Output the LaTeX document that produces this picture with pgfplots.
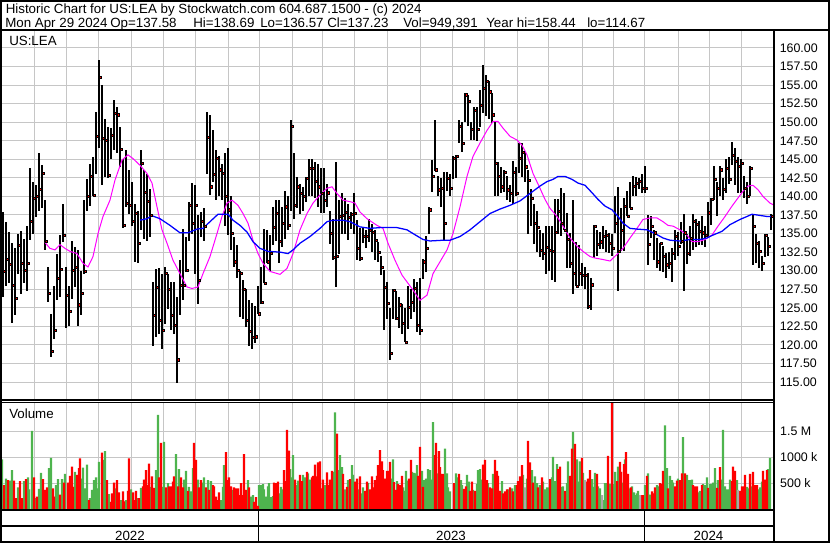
\documentclass[border=0pt]{standalone}
\usepackage{fontspec}
\setmainfont{Liberation Sans}
\usepackage{pgfplots}
\usepackage{pgfplotstable}
\pgfplotsset{compat=1.18}
\definecolor{gridgray}{RGB}{198,198,198}
\definecolor{volgreen}{RGB}{78,180,78}
\definecolor{volred}{RGB}{255,0,0}
\definecolor{volgrey}{RGB}{168,168,168}
\definecolor{magline}{RGB}{255,0,255}
\definecolor{blueline}{RGB}{0,0,255}

% x = horizontal position of the trading day on the chart (pixels from left)
\pgfplotstableread[row sep=\\]{
x h l c\\
3 137.9 126.5 129.9\\ 6 136.5 128.0 131.5\\ 9 135.2 128.3 130.9\\ 12 133.7 122.9 128.0\\ 15 133.0 124.0 126.3\\ 18 135.0 129.5 133.4\\
21 135.4 126.8 131.0\\ 24 134.2 128.3 130.1\\ 27 136.0 127.3 131.0\\ 30 143.8 134.1 136.6\\ 33 142.0 135.0 139.8\\ 36 141.5 137.2 140.0\\
39 145.8 138.0 141.0\\ 42 144.2 138.5 143.1\\ 45 139.5 132.8 134.0\\ 48 130.5 125.8 127.0\\ 51 124.2 118.4 119.1\\ 54 128.0 120.8 122.0\\
57 132.3 126.0 129.0\\ 60 134.8 126.4 130.2\\ 63 139.0 133.8 134.8\\ 66 130.5 122.3 126.7\\ 69 128.0 122.5 124.5\\ 72 134.0 126.2 130.0\\
75 133.2 127.8 130.5\\ 78 132.8 122.6 125.4\\ 81 130.0 124.0 127.0\\ 84 139.5 129.6 129.9\\ 87 142.3 138.0 140.0\\ 90 144.4 138.7 142.7\\
93 145.3 140.1 140.2\\ 96 151.4 143.0 148.1\\ 99 158.4 146.5 156.1\\ 102 155.0 141.5 147.8\\ 105 150.5 142.6 147.6\\ 108 149.4 142.5 142.9\\
111 149.2 145.0 148.3\\ 114 153.0 146.3 151.2\\ 117 152.0 145.8 151.0\\ 120 149.4 144.0 146.3\\ 123 145.0 135.8 136.1\\ 126 146.3 138.6 139.1\\
129 143.6 137.6 138.8\\ 132 142.0 136.0 136.6\\ 135 139.0 131.2 137.7\\ 138 138.0 131.0 133.7\\ 141 146.3 135.5 144.5\\ 144 143.6 134.2 140.6\\
147 143.0 134.0 139.3\\ 150 141.0 134.5 137.5\\ 153 128.5 119.8 124.0\\ 156 130.2 121.0 127.8\\ 159 130.4 121.5 123.3\\ 162 129.5 119.4 122.0\\
165 130.5 122.8 129.6\\ 168 129.5 124.8 127.5\\ 171 128.5 122.0 124.0\\ 174 128.5 121.5 122.7\\ 177 126.5 114.9 118.0\\ 180 131.5 124.0 128.0\\
183 135.6 126.0 128.0\\ 186 134.5 129.8 130.1\\ 189 139.3 134.0 138.8\\ 192 141.8 135.0 136.4\\ 195 141.5 129.5 138.8\\ 198 137.5 125.5 128.7\\
201 137.9 134.5 136.6\\ 204 138.5 134.0 136.0\\ 207 151.4 143.0 148.0\\ 210 151.0 140.2 141.3\\ 213 149.0 142.0 143.0\\ 216 146.3 139.5 145.1\\
219 145.5 140.0 143.6\\ 222 144.4 139.5 143.1\\ 225 145.8 136.0 140.0\\ 228 146.5 134.8 138.2\\ 231 140.0 132.8 135.0\\ 234 134.5 130.5 131.2\\
237 133.5 129.0 130.1\\ 240 130.0 123.8 129.6\\ 243 128.7 123.5 127.5\\ 246 127.5 122.4 123.3\\ 249 126.0 119.8 121.8\\ 252 125.6 119.4 121.0\\
255 125.2 120.2 121.1\\ 258 128.0 124.2 124.2\\ 261 130.5 125.5 125.8\\ 264 135.6 128.3 128.3\\ 267 135.5 131.0 131.2\\ 270 134.8 130.0 132.3\\
273 138.6 133.5 135.9\\ 276 139.5 134.0 137.7\\ 279 139.5 131.0 134.0\\ 282 138.6 133.2 136.4\\ 285 140.8 134.2 138.6\\ 288 140.0 135.5 136.1\\
291 150.3 138.0 149.4\\ 294 145.8 137.0 138.8\\ 297 142.6 138.5 141.3\\ 300 141.7 137.7 140.4\\ 303 141.3 138.0 140.0\\ 306 142.6 139.2 142.4\\
309 145.1 140.0 143.8\\ 312 145.0 140.0 143.8\\ 315 144.6 139.8 142.0\\ 318 144.4 138.6 141.3\\ 321 143.8 137.8 140.4\\ 324 143.8 137.8 139.5\\
327 141.7 138.6 140.5\\ 330 138.0 133.6 135.0\\ 333 137.0 131.5 131.8\\ 336 144.6 127.8 131.9\\ 339 139.5 132.3 137.3\\ 342 140.4 135.0 137.5\\
345 139.8 135.0 137.9\\ 348 139.0 134.1 137.2\\ 351 137.9 135.6 137.6\\ 354 140.4 135.0 137.7\\ 357 136.8 131.4 133.0\\ 360 135.8 131.3 131.7\\
363 135.7 133.7 134.6\\ 366 135.5 133.0 134.6\\ 369 136.9 133.8 135.5\\ 372 136.3 132.5 135.2\\ 375 135.5 131.4 134.1\\ 378 133.8 131.2 132.5\\
381 132.0 129.4 130.5\\ 384 130.1 122.0 127.8\\ 387 128.5 123.5 125.6\\ 390 125.0 117.9 118.9\\ 393 127.5 123.5 127.4\\ 396 127.3 123.3 123.6\\
399 126.5 122.3 125.4\\ 402 125.5 121.5 122.9\\ 405 125.0 120.4 120.4\\ 408 128.0 122.2 125.1\\ 411 127.5 123.5 125.8\\ 414 128.9 124.4 127.6\\
417 128.5 121.8 122.7\\ 420 129.0 121.3 122.0\\ 423 131.6 128.9 131.2\\ 426 134.7 129.8 133.0\\ 429 138.6 135.0 138.2\\ 432 144.9 140.6 142.7\\
435 150.3 143.5 143.6\\ 438 142.7 140.0 140.9\\ 441 142.5 138.6 141.1\\ 444 143.3 134.1 136.4\\ 447 143.3 140.7 142.4\\ 450 143.0 140.0 141.1\\
453 145.5 142.4 145.1\\ 456 145.6 142.5 145.4\\ 459 150.3 147.2 149.4\\ 462 150.0 146.0 147.2\\ 465 154.0 150.0 153.7\\ 468 153.6 149.5 152.8\\
471 150.0 147.6 149.0\\ 474 152.0 147.6 151.6\\ 477 152.0 147.5 149.0\\ 480 154.4 149.4 152.3\\ 483 157.7 151.2 154.6\\ 486 156.4 150.8 155.5\\
489 155.5 150.4 154.1\\ 492 154.0 149.9 151.0\\ 495 150.0 140.0 144.5\\ 498 144.7 140.0 142.7\\ 501 144.0 140.4 141.3\\ 504 143.5 140.6 143.3\\
507 142.7 139.5 140.9\\ 510 141.5 139.3 140.4\\ 513 144.8 139.0 143.3\\ 516 144.0 140.0 140.4\\ 519 147.2 143.1 145.1\\ 522 147.2 142.6 146.0\\
525 146.0 142.0 144.0\\ 528 143.6 134.9 142.2\\ 531 141.0 136.0 139.7\\ 534 139.0 133.6 136.4\\ 537 138.0 132.5 135.9\\ 540 135.5 131.9 132.8\\
543 135.1 131.4 132.3\\ 546 136.0 129.5 133.2\\ 549 136.0 130.0 132.8\\ 552 136.0 128.8 132.6\\ 555 139.6 128.5 135.2\\ 558 139.6 135.0 138.0\\
561 141.1 134.7 136.4\\ 564 140.4 135.5 135.5\\ 567 137.8 130.4 134.2\\ 570 135.1 130.4 131.0\\ 573 139.5 126.8 129.7\\ 576 133.8 127.9 127.9\\
579 133.5 128.0 129.7\\ 582 131.0 127.9 129.4\\ 585 130.5 127.5 129.4\\ 588 129.7 124.9 125.2\\ 591 129.0 124.7 128.1\\ 594 136.1 131.7 136.0\\
597 135.5 132.0 133.5\\ 600 135.2 132.9 133.9\\ 603 136.0 132.9 134.6\\ 606 135.5 132.5 134.8\\ 609 135.1 132.4 133.7\\ 612 135.0 132.0 133.0\\
615 140.0 135.1 136.4\\ 618 141.3 127.3 132.6\\ 621 138.5 132.6 135.5\\ 624 139.8 132.6 138.7\\ 627 140.8 137.3 137.3\\ 630 142.0 138.4 138.4\\
633 142.8 140.0 141.4\\ 636 142.6 140.0 141.8\\ 639 142.5 141.0 142.0\\ 642 143.0 140.5 141.1\\ 645 144.1 140.5 141.1\\ 648 137.5 130.8 133.5\\
651 137.3 134.4 136.0\\ 654 135.5 131.5 135.1\\ 657 134.4 130.4 131.2\\ 660 133.7 130.0 133.7\\ 663 133.3 129.8 131.9\\ 666 132.4 129.0 130.8\\
669 132.5 130.2 131.0\\ 672 133.0 128.5 132.4\\ 675 135.5 131.4 134.6\\ 678 135.2 132.0 133.3\\ 681 136.6 133.6 134.0\\ 684 137.6 127.3 135.1\\
687 135.0 130.9 132.4\\ 690 136.0 132.0 134.4\\ 693 137.6 132.8 136.6\\ 696 137.0 133.2 136.2\\ 699 136.7 133.5 135.3\\ 702 137.3 133.5 135.1\\
705 136.0 133.2 134.8\\ 708 139.3 134.5 137.8\\ 711 139.8 136.2 139.6\\ 714 144.1 139.5 142.3\\ 717 142.0 137.4 141.1\\ 720 144.1 140.0 143.6\\
723 142.5 139.5 141.0\\ 726 145.0 140.4 143.8\\ 729 145.3 141.7 142.3\\ 732 147.3 144.2 145.6\\ 735 146.5 141.5 144.7\\ 738 145.3 140.5 144.1\\
741 145.0 140.5 144.5\\ 744 142.8 139.8 141.1\\ 747 142.0 139.0 140.0\\ 750 144.1 140.0 143.8\\ 753 137.5 130.8 136.0\\ 756 135.0 131.0 133.7\\
759 134.0 130.4 132.6\\ 762 132.0 130.0 131.0\\ 765 135.0 131.9 134.8\\ 768 134.5 132.0 133.3\\ 771 137.6 135.5 137.3\\
}\price

% short moving average (magenta)
\pgfplotstableread[row sep=\\]{
x v\\
45 133.8\\ 50 133.0\\ 55 132.8\\ 60 133.5\\ 65 133.0\\ 70 132.6\\ 77 132.3\\ 83 131.0\\ 88 130.5\\ 93 131.9\\ 98 135.0\\ 103 137.3\\
110 139.5\\ 115 142.2\\ 122 144.9\\ 128 145.6\\ 133 145.1\\ 140 144.2\\ 147 143.1\\ 152 141.8\\ 157 138.6\\ 162 135.5\\ 167 133.7\\
173 131.4\\ 180 129.6\\ 187 127.8\\ 192 127.6\\ 198 127.8\\ 203 129.6\\ 210 131.9\\ 217 135.0\\ 222 137.3\\ 227 139.1\\ 232 139.5\\
238 138.8\\ 243 137.7\\ 248 136.4\\ 253 134.1\\ 258 132.3\\ 263 131.0\\ 270 129.9\\ 280 129.5\\ 287 130.3\\ 293 132.3\\ 300 135.5\\
307 137.7\\ 313 139.1\\ 320 140.2\\ 327 141.1\\ 332 141.3\\ 337 140.4\\ 343 139.5\\ 350 139.3\\ 355 139.1\\ 360 137.9\\ 367 137.0\\
377 136.1\\ 383 135.7\\ 388 133.7\\ 395 131.4\\ 402 129.4\\ 408 128.3\\ 413 127.4\\ 420 126.0\\ 427 126.7\\ 433 129.6\\ 440 131.2\\
447 132.8\\ 453 135.0\\ 460 138.6\\ 467 142.7\\ 473 145.4\\ 480 147.2\\ 487 148.9\\ 493 150.1\\ 498 150.1\\ 503 149.2\\ 510 148.1\\
517 147.6\\ 522 146.9\\ 527 145.6\\ 533 143.1\\ 540 141.1\\ 545 139.6\\ 550 138.4\\ 557 137.3\\ 563 136.0\\ 570 134.4\\ 577 133.3\\
583 132.6\\ 590 131.9\\ 595 131.7\\ 603 131.5\\ 610 131.3\\ 617 132.2\\ 623 133.0\\ 630 134.4\\ 637 135.7\\ 643 136.9\\ 650 137.1\\
657 137.1\\ 663 136.6\\ 668 136.1\\ 673 136.0\\ 680 135.5\\ 687 134.8\\ 692 133.9\\ 698 133.9\\ 705 134.2\\ 712 134.8\\ 718 136.0\\
725 137.3\\ 732 138.7\\ 738 139.8\\ 743 140.7\\ 748 141.4\\ 753 141.5\\ 758 140.9\\ 763 140.0\\ 770 139.1\\ 773 138.9\\
}\mashort

% long moving average (blue)
\pgfplotstableread[row sep=\\]{
x v\\
140 136.8\\ 147 137.0\\ 152 137.4\\ 160 137.0\\ 170 136.1\\ 180 135.1\\ 188 135.1\\ 197 135.6\\ 203 135.7\\ 210 136.6\\ 218 137.6\\
228 137.6\\ 233 136.8\\ 240 136.1\\ 247 135.2\\ 253 133.9\\ 260 133.0\\ 268 132.6\\ 280 132.5\\ 288 132.3\\ 293 132.8\\ 300 133.7\\
310 134.6\\ 320 135.7\\ 327 136.6\\ 333 136.8\\ 343 136.8\\ 350 136.6\\ 360 135.9\\ 370 135.7\\ 380 135.8\\ 397 135.8\\ 407 135.5\\
413 135.0\\ 423 134.2\\ 430 134.0\\ 443 134.1\\ 450 134.1\\ 460 134.6\\ 470 135.5\\ 480 136.6\\ 490 137.7\\ 500 138.3\\ 510 138.8\\
520 139.4\\ 530 140.4\\ 540 141.4\\ 547 142.0\\ 553 142.3\\ 558 142.7\\ 565 142.7\\ 572 142.3\\ 578 141.8\\ 585 141.5\\ 592 140.5\\
598 139.6\\ 605 138.7\\ 612 138.2\\ 618 137.3\\ 623 136.4\\ 630 135.7\\ 637 135.6\\ 647 135.5\\ 655 135.0\\ 663 134.4\\ 670 134.1\\
680 134.0\\ 690 134.2\\ 700 134.2\\ 707 134.4\\ 713 134.8\\ 722 135.3\\ 730 136.2\\ 740 136.9\\ 747 137.3\\ 752 137.6\\ 757 137.5\\
767 137.3\\ 773 137.3\\
}\malong

% volume in millions, up days
\pgfplotstableread[row sep=\\]{
x v\\
2 0.96\\ 6 0.59\\ 10 0.55\\ 12 0.75\\ 18 0.42\\ 24 0.54\\ 28 0.61\\ 29 0.38\\ 32 1.51\\ 35 0.21\\ 39 0.39\\ 41 0.70\\ 49 0.79\\
51 0.99\\ 56 0.46\\ 58 0.58\\ 62 0.58\\ 65 0.68\\ 75 0.72\\ 82 0.59\\ 83 0.80\\ 85 0.40\\ 87 0.86\\ 90 0.21\\ 92 0.37\\ 94 0.56\\
96 0.61\\ 97 0.40\\ 99 0.91\\ 103 0.95\\ 105 1.12\\ 109 0.29\\ 116 0.40\\ 121 0.17\\ 126 0.17\\ 131 0.38\\ 138 0.21\\ 141 0.41\\
151 0.43\\ 156 0.75\\ 158 1.82\\ 163 0.43\\ 164 1.30\\ 168 0.50\\ 176 1.06\\ 179 0.77\\ 184 0.57\\ 186 0.74\\ 189 0.43\\ 191 0.34\\
193 0.79\\ 198 0.57\\ 203 0.51\\ 204 0.61\\ 208 0.56\\ 211 0.54\\ 221 0.17\\ 223 0.43\\ 224 0.85\\ 233 0.37\\ 248 0.56\\ 251 0.24\\
253 0.27\\ 259 0.46\\ 261 0.46\\ 263 0.48\\ 264 0.38\\ 266 0.24\\ 268 0.44\\ 269 0.50\\ 271 0.23\\ 273 0.25\\ 279 0.30\\ 281 0.43\\
283 0.38\\ 290 0.77\\ 292 0.61\\ 293 1.04\\ 297 0.46\\ 298 0.55\\ 303 0.66\\ 305 0.61\\ 308 0.69\\ 310 0.57\\ 325 0.46\\ 333 0.72\\
335 1.87\\ 338 0.75\\ 340 1.04\\ 342 0.81\\ 345 0.38\\ 348 0.56\\ 352 0.85\\ 353 0.66\\ 358 0.38\\ 362 0.30\\ 363 0.42\\ 368 0.50\\
392 0.59\\ 393 0.96\\ 397 0.54\\ 403 0.42\\ 405 0.35\\ 406 0.74\\ 408 0.55\\ 412 0.72\\ 414 0.70\\ 415 0.69\\ 417 0.85\\ 422 0.74\\
424 0.56\\ 426 0.59\\ 427 0.46\\ 428 0.77\\ 430 0.75\\ 432 0.57\\ 433 1.68\\ 437 0.69\\ 445 1.17\\ 447 0.69\\ 448 0.42\\ 450 0.34\\
456 0.69\\ 457 0.61\\ 461 0.56\\ 462 0.46\\ 467 0.66\\ 469 0.53\\ 473 0.37\\ 477 0.48\\ 478 0.75\\ 480 0.77\\ 482 0.57\\ 488 0.50\\
493 0.68\\ 502 0.54\\ 508 0.38\\ 512 0.40\\ 515 0.46\\ 523 0.66\\ 527 0.59\\ 532 0.75\\ 535 0.63\\ 537 0.50\\ 540 0.46\\ 543 0.53\\
545 0.38\\ 547 0.42\\ 548 0.42\\ 552 0.61\\ 553 1.01\\ 555 0.54\\ 557 0.87\\ 562 0.43\\ 563 0.44\\ 567 0.50\\ 568 0.92\\ 573 1.49\\
577 0.96\\ 578 0.53\\ 580 0.92\\ 583 0.70\\ 592 0.58\\ 593 0.43\\ 595 0.70\\ 598 0.44\\ 600 0.40\\ 603 0.17\\ 605 0.50\\ 607 0.50\\
610 0.48\\ 613 0.48\\ 615 0.72\\ 618 0.82\\ 622 0.51\\ 625 0.96\\ 629 0.40\\ 632 0.44\\ 634 0.32\\ 635 0.27\\ 637 0.30\\ 638 0.35\\
645 0.46\\ 648 0.69\\ 650 0.28\\ 657 0.46\\ 658 0.44\\ 665 1.62\\ 667 0.79\\ 670 0.64\\ 672 0.56\\ 673 0.51\\ 678 0.59\\ 683 1.39\\
687 0.66\\ 688 0.56\\ 690 0.56\\ 692 0.57\\ 698 0.32\\ 700 0.35\\ 703 0.48\\ 705 0.46\\ 707 0.61\\ 710 0.48\\ 712 0.48\\ 713 0.51\\
715 0.79\\ 718 0.56\\ 722 0.57\\ 723 1.53\\ 725 0.44\\ 727 0.38\\ 728 0.38\\ 730 0.57\\ 737 0.56\\ 747 0.43\\ 748 0.40\\ 752 0.44\\
758 0.38\\ 760 0.42\\ 762 0.53\\ 768 0.77\\ 770 0.99\\
}\volup

% volume in millions, down days
\pgfplotstableread[row sep=\\]{
x v\\
4 0.46\\ 8 0.56\\ 14 0.55\\ 16 0.21\\ 20 0.54\\ 22 0.21\\ 26 0.58\\ 34 0.61\\ 37 0.24\\ 43 0.58\\ 45 0.37\\ 47 0.42\\ 53 0.40\\
54 0.24\\ 60 0.28\\ 64 0.51\\ 68 0.51\\ 70 0.64\\ 72 0.82\\ 73 0.43\\ 77 0.66\\ 79 0.79\\ 80 0.98\\ 89 0.17\\ 102 1.09\\ 107 0.56\\
111 0.14\\ 112 0.30\\ 114 0.51\\ 117 0.56\\ 119 0.32\\ 123 0.34\\ 124 0.15\\ 128 0.35\\ 129 0.98\\ 133 0.32\\ 134 0.17\\ 136 0.35\\
139 0.21\\ 143 0.44\\ 144 0.57\\ 146 0.75\\ 147 0.46\\ 149 0.88\\ 152 0.63\\ 154 0.41\\ 159 0.61\\ 161 1.28\\ 166 0.42\\ 169 0.44\\
171 0.44\\ 173 0.53\\ 174 0.63\\ 178 0.44\\ 181 0.61\\ 183 0.42\\ 188 0.35\\ 194 1.28\\ 196 0.95\\ 199 0.42\\ 201 0.56\\ 206 0.42\\
209 0.37\\ 213 0.46\\ 214 0.44\\ 216 0.24\\ 218 0.17\\ 219 0.32\\ 226 1.10\\ 228 0.56\\ 229 0.61\\ 231 0.44\\ 234 0.42\\ 236 0.40\\
238 0.40\\ 239 0.27\\ 241 0.50\\ 243 0.27\\ 244 1.06\\ 246 0.37\\ 249 0.42\\ 254 0.14\\ 256 0.23\\ 258 0.06\\ 274 0.51\\ 276 0.50\\
278 0.53\\ 284 0.75\\ 286 0.54\\ 287 1.53\\ 289 1.13\\ 295 0.57\\ 300 0.66\\ 302 0.54\\ 307 0.72\\ 312 0.61\\ 313 0.64\\ 315 0.86\\
317 0.63\\ 318 0.90\\ 320 0.92\\ 322 0.40\\ 323 0.57\\ 327 0.71\\ 328 0.46\\ 330 0.57\\ 332 0.74\\ 337 1.46\\ 343 0.68\\ 347 0.43\\
350 0.58\\ 355 0.53\\ 357 0.59\\ 360 0.63\\ 365 0.35\\ 367 0.53\\ 370 0.38\\ 372 0.63\\ 373 0.42\\ 375 0.56\\ 377 0.64\\ 378 0.85\\
380 1.14\\ 382 0.92\\ 383 0.75\\ 385 0.59\\ 387 0.74\\ 388 0.74\\ 390 0.91\\ 394 0.52\\ 396 0.37\\ 398 0.48\\ 400 0.46\\ 402 0.64\\
409 0.59\\ 411 0.95\\ 418 0.64\\ 420 1.20\\ 423 0.43\\ 435 1.04\\ 436 1.28\\ 439 1.12\\ 440 0.81\\ 442 0.68\\ 443 0.68\\ 454 0.50\\
459 0.68\\ 464 0.39\\ 466 0.44\\ 470 0.35\\ 472 0.53\\ 475 0.35\\ 483 0.86\\ 485 0.95\\ 487 0.56\\ 490 0.42\\ 492 0.40\\ 495 0.95\\
497 0.74\\ 498 0.64\\ 500 0.35\\ 503 0.30\\ 505 0.34\\ 507 0.38\\ 510 0.42\\ 513 0.34\\ 517 0.46\\ 518 0.54\\ 520 0.63\\ 522 0.85\\
528 1.32\\ 530 0.90\\ 533 0.51\\ 538 0.42\\ 542 0.61\\ 550 0.58\\ 558 0.77\\ 560 0.82\\ 565 0.35\\ 570 0.64\\ 572 1.17\\ 575 1.26\\
582 0.99\\ 587 0.53\\ 588 0.59\\ 590 0.75\\ 597 0.68\\ 608 1.03\\ 612 2.06\\ 617 0.54\\ 620 0.91\\ 621 0.72\\ 624 0.87\\ 626 1.10\\
628 0.68\\ 631 0.42\\ 642 0.27\\ 643 0.27\\ 647 0.64\\ 652 0.34\\ 653 0.30\\ 655 0.42\\ 660 0.50\\ 662 0.48\\ 663 0.74\\ 668 0.40\\
675 0.44\\ 677 0.55\\ 680 0.56\\ 682 0.69\\ 685 0.69\\ 693 0.46\\ 695 0.44\\ 697 0.44\\ 702 0.46\\ 708 0.41\\ 717 0.41\\ 720 0.81\\
732 0.54\\ 733 0.82\\ 735 0.74\\ 740 0.35\\ 742 0.44\\ 743 0.44\\ 745 0.66\\ 750 0.68\\ 753 0.72\\ 755 0.46\\ 757 0.46\\ 763 0.74\\
765 0.57\\ 767 0.75\\
}\voldown

% volume in millions, unchanged days
\pgfplotstableread[row sep=\\]{
x v\\
525 0.42\\ 585 0.56\\ 602 0.27\\ 640 0.27\\ 738 0.37\\
}\volflat

\newcommand{\chartfont}{\fontsize{10}{12}\selectfont}

\begin{document}
\begin{tikzpicture}
\useasboundingbox (0,0) rectangle (622.5pt,407.25pt);

% price panel
\begin{axis}[
  at={(0pt,106.5pt)}, anchor=south west,
  width=579.75pt, height=277.5pt, scale only axis,
  xmin=0, xmax=773, ymin=112.44, ymax=162.29,
  axis line style={draw=none},
  xtick={34,66,98,131,163,195,228,259,292,322,354,387,420,452,484,517,548,582,613,644,678,709,741},
  xticklabels={},
  ytick={115,117.5,120,122.5,125,127.5,130,132.5,135,137.5,140,142.5,145,147.5,150,152.5,155,157.5,160},
  yticklabel pos=right,
  major tick length=0pt, tick style={draw=none},
  yticklabel style={anchor=west, inner sep=0pt, xshift=4.9pt, font=\fontsize{9.3}{11}\selectfont,
    /pgf/number format/.cd, fixed, fixed zerofill, precision=2, assume math mode=true},
  grid=major, major grid style={draw=gridgray, line width=0.75pt},
]
% high-low bars
\addplot[draw=none, mark=none, forget plot,
  error bars/.cd, y dir=both, y explicit, error mark=none,
  error bar style={draw=black, line width=1.3pt}]
  table[x=x, y=c, y error plus expr=\thisrow{h}-\thisrow{c}, y error minus expr=\thisrow{c}-\thisrow{l}] {\price};
% closes, a small red tick just right of each bar
\addplot[only marks, mark=square*, mark size=0.8pt, mark options={draw=none, fill=red, xshift=0.9pt}] table[x=x, y=c] {\price};
\addplot[magline, line width=0.75pt, mark=none] table[x=x, y=v] {\mashort};
\addplot[blueline, line width=0.95pt, mark=none] table[x=x, y=v] {\malong};
\end{axis}

% volume panel
\begin{axis}[
  at={(0pt,25.5pt)}, anchor=south west,
  width=579.75pt, height=80.25pt, scale only axis,
  xmin=0, xmax=773, ymin=0, ymax=2.07,
  axis line style={draw=none},
  xtick={34,66,98,131,163,195,228,259,292,322,354,387,420,452,484,517,548,582,613,644,678,709,741},
  xticklabels={},
  ytick={0.5,1,1.5}, yticklabels={500 k,1000 k,1.5 M},
  yticklabel pos=right,
  major tick length=0pt, tick style={draw=none},
  yticklabel style={anchor=west, inner sep=0pt, xshift=5.2pt, font=\fontsize{9.3}{11}\selectfont},
  grid=major, major grid style={draw=gridgray, line width=0.75pt},
]
\addplot[ybar, bar width=1.6pt, bar shift=0pt, fill=volgreen, draw=none] table[x=x, y=v] {\volup};
\addplot[ybar, bar width=1.6pt, bar shift=0pt, fill=volred, draw=none] table[x=x, y=v] {\voldown};
\addplot[ybar, bar width=1.6pt, bar shift=0pt, fill=volgrey, draw=none] table[x=x, y=v] {\volflat};
\end{axis}

% frames and captions, in pixel units from the top left corner
\begin{scope}[x=0.75pt, y=-0.75pt, shift={(0pt,407.25pt)}]
\draw[line width=1.5pt] (1,0.8) rectangle (828.6,541.9);
\draw[line width=1.5pt] (0,29.8) -- (830,29.8);
\draw[line width=1.5pt] (773.7,29.8) -- (773.7,541.9);
\draw[line width=0.9pt] (0,399.9) -- (773.7,399.9);
\draw[line width=0.9pt] (0,402.6) -- (773.7,402.6);
\draw[line width=1.5pt] (0,509.8) -- (773.7,509.8);
\draw[line width=1.5pt] (0,526.2) -- (773.7,526.2);
\draw[line width=1pt] (258.6,509.8) -- (258.6,541.9);
\draw[line width=1pt] (644.4,509.8) -- (644.4,541.9);

\begin{scope}[every node/.style={inner sep=0pt, font=\chartfont}]
\node[anchor=base west] at (5.5,14) {Historic Chart for US:LEA by Stockwatch.com 604.687.1500 - (c) 2024};
\node[anchor=base west] at (5,27.4) {Mon Apr 29 2024};
\node[anchor=base west] at (110,27.4) {Op=137.58};
\node[anchor=base west] at (193,27.4) {Hi=138.69};
\node[anchor=base west] at (260,27.4) {Lo=136.57};
\node[anchor=base west] at (327,27.4) {Cl=137.23};
\node[anchor=base west] at (403,27.4) {Vol=949,391};
\node[anchor=base west] at (486,27.4) {Year hi=158.44};
\node[anchor=base west] at (587,27.4) {lo=114.67};
\node[anchor=base west] at (9,46) {US:LEA};
\node[anchor=base west] at (9,418) {Volume};
\node[anchor=base] at (130,540) {2022};
\node[anchor=base] at (451,540) {2023};
\node[anchor=base] at (708.5,540) {2024};
\end{scope}
\end{scope}
\end{tikzpicture}
\end{document}
